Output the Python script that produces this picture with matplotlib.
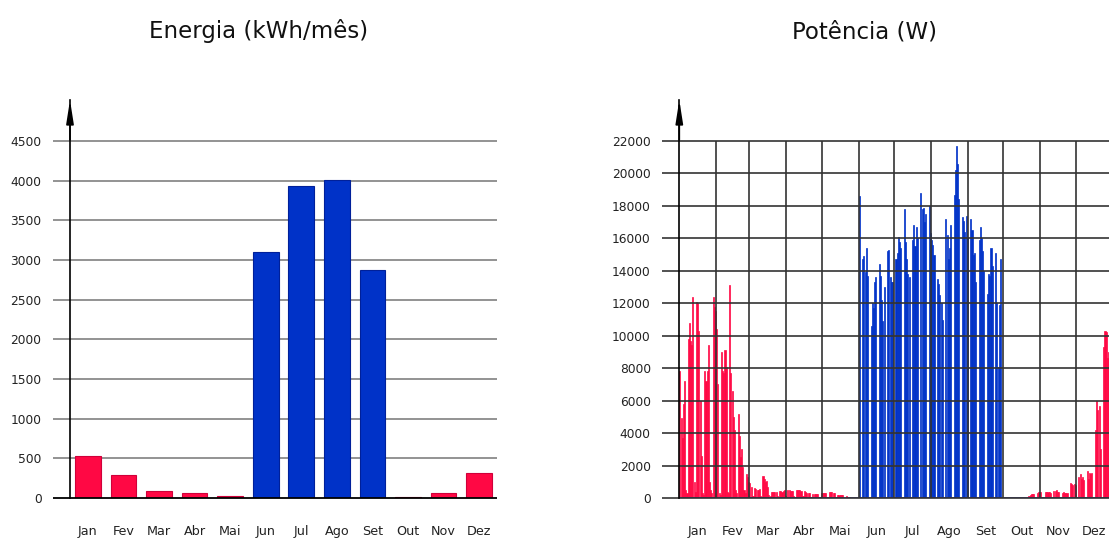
import numpy as np
import matplotlib.pyplot as plt
from matplotlib.transforms import blended_transform_factory

meses = ['Jan', 'Fev', 'Mar', 'Abr', 'Mai', 'Jun', 'Jul', 'Ago', 'Set', 'Out', 'Nov', 'Dez']
energia = [533, 290, 84, 59, 25, 3097, 3933, 4005, 2870, 13, 67, 311]
verao = [5, 6, 7, 8]  # meses em azul

# pico diario de potencia (W), um valor por dia
pot_jan = [7800, 4900, 3700, 5800, 7200, 500, 300, 9800, 10800, 9700, 9400, 12400, 1000, 400,
           12100, 12000, 10300, 6000, 2600, 300, 200, 7800, 7200, 7800, 9400, 1000, 500, 300,
           12400, 11800, 11500]
pot_fev = [10400, 7000, 300, 200, 9000, 7800, 7700, 9100, 8100, 400, 300, 13100, 7700, 6600,
           5000, 4200, 500, 300, 5200, 3800, 2500, 3000, 1900, 500, 300, 1500, 1300, 1000]
pot_mar = [900, 700, 150, 100, 600, 550, 500, 500, 550, 100, 80, 1350, 1200, 1000, 1050, 700,
           200, 150, 400, 380, 350, 350, 340, 100, 80, 420, 430, 400, 450, 480, 100]
pot_abr = [80, 490, 470, 450, 450, 460, 100, 80, 480, 490, 480, 470, 450, 120, 100, 460, 400,
           330, 320, 300, 80, 60, 250, 250, 240, 230, 250, 60, 50, 290]
pot_mai = [290, 290, 280, 300, 60, 50, 390, 370, 340, 330, 330, 50, 40, 190, 185, 180, 185, 180,
           30, 20, 100, 90, 60, 40, 30, 0, 0, 0, 0, 0, 0]
pot_jun = [18600, 0, 0, 14700, 14900, 13900, 15400, 13700, 0, 0, 10600, 12000, 11700, 13300,
           13600, 0, 0, 14400, 13700, 12200, 10900, 13000, 0, 0, 15200, 15300, 13600, 13300,
           13300, 0]
pot_jul = [0, 14700, 15100, 16100, 15800, 15400, 0, 0, 17800, 15800, 14700, 13800, 13600, 0, 0,
           15900, 16800, 15500, 16700, 16000, 0, 0, 18800, 17800, 17900, 17000, 17500, 0, 0,
           18000, 16300]
pot_ago = [15900, 15600, 15000, 0, 0, 13500, 13200, 12500, 12000, 11000, 0, 0, 17200, 16200,
           14700, 15400, 16800, 0, 0, 18700, 20200, 21700, 20600, 18400, 0, 0, 17300, 17100,
           16400, 17400, 16000]
pot_set = [0, 0, 17200, 16500, 15000, 15100, 13300, 0, 0, 15900, 16700, 16000, 15200, 14000, 0,
           0, 12600, 13800, 13700, 15400, 14300, 0, 0, 15100, 12000, 8100, 11900, 14700, 0, 0]
pot_out = [0, 0, 0, 0, 0, 0, 0, 0, 0, 0, 0, 0, 0, 0, 0, 0, 0, 0, 0, 0, 0,
           150, 200, 220, 230, 220, 0, 0, 300, 390, 350]
pot_nov = [380, 50, 0, 0, 350, 370, 360, 370, 330, 0, 0, 420, 450, 490, 380, 350, 0, 0, 330,
           340, 320, 330, 330, 0, 0, 900, 850, 800, 880, 800]
pot_dez = [0, 0, 1300, 1480, 1150, 1300, 1100, 0, 0, 1680, 1200, 1560, 1500, 1550, 0, 0, 4190,
           5990, 5400, 5700, 3000, 0, 0, 9280, 10300, 10200, 8600, 9000, 0, 0, 500]

pot_meses = [pot_jan, pot_fev, pot_mar, pot_abr, pot_mai, pot_jun, pot_jul, pot_ago, pot_set,
             pot_out, pot_nov, pot_dez]

vermelho = '#ff0844'
azul = '#0032c8'
cinza = '#8a8a8a'

W, H = 1109, 541
fig = plt.figure(figsize=(W / 100, H / 100), dpi=100)
plt.rcParams['font.family'] = 'DejaVu Sans'

ax1 = fig.add_axes([70 / W, 1 - 498 / H, 427 / W, 398 / H])
ax2 = fig.add_axes([679.3 / W, 1 - 498 / H, 433.4 / W, 398 / H])

# ---------- energia ----------
x = np.arange(12)
cores = [azul if i in verao else vermelho for i in range(12)]
bordas = ['#00209a' if i in verao else '#d0003a' for i in range(12)]
ax1.bar(x, energia, width=0.72, color=cores, edgecolor=bordas, linewidth=0.8, zorder=3)
ax1.set_xlim(-0.5, 11.5)
ax1.set_ylim(0, 5017)
yt1 = list(range(0, 5000, 500))
ax1.set_yticks(yt1)
ax1.set_xticks(x)
ax1.set_xticklabels(meses, fontsize=9.2, color='#222222')
tr1 = blended_transform_factory(ax1.transAxes, ax1.transData)
ext1 = 17 / 427
for t in yt1:
    if t == 0:
        ax1.hlines(t, -ext1, 1, transform=tr1, color='black', lw=1.3, clip_on=False, zorder=4)
    else:
        ax1.hlines(t, -ext1, 1, transform=tr1, color=cinza, lw=1.3, clip_on=False, zorder=1)

# ---------- potencia ----------
dias = [len(m) for m in pot_meses]
inicio = np.concatenate([[0], np.cumsum(dias)])
pot = np.concatenate(pot_meses)
cor_dia = []
for i, n in enumerate(dias):
    cor_dia += [azul if i in verao else vermelho] * n
xd = np.arange(len(pot)) + 0.5
ax2.bar(xd, pot, width=0.9, color=cor_dia, edgecolor=cor_dia, linewidth=0.5, zorder=2)
ax2.axhline(0, color='#2a2a9a', lw=1.2, zorder=2.5)
ax2.set_xlim(0, 365)
ax2.set_ylim(0, 24527)
yt2 = list(range(0, 24000, 2000))
ax2.set_yticks(yt2)
ax2.set_xticks(inicio[:-1] + np.array(dias) / 2)
ax2.set_xticklabels(meses, fontsize=9.2, color='#222222')
tr2 = blended_transform_factory(ax2.transAxes, ax2.transData)
ext2 = 17 / 433.4
for t in yt2:
    ax2.hlines(t, -ext2, 1, transform=tr2, color='#333333', lw=1.2, clip_on=False, zorder=4)
ax2.vlines(inicio[1:-1], 0, 22000, color='#333333', lw=1.2, zorder=4)

for ax in [ax1, ax2]:
    for s in ['top', 'right', 'bottom']:
        ax.spines[s].set_visible(False)
    ax.spines['left'].set_linewidth(1.2)
    ax.spines['left'].set_zorder(5)
    ax.tick_params(axis='y', length=0, pad=20.5, labelsize=8.8, labelcolor='#222222')
    ax.tick_params(axis='x', length=0, pad=19.5)
    ax.annotate('', xy=(0, 1.0), xycoords='axes fraction', xytext=(0, 0.9),
                arrowprops=dict(arrowstyle='-|>,head_length=1.4,head_width=0.22',
                                color='black', lw=1.2, mutation_scale=10,
                                shrinkA=0, shrinkB=0), annotation_clip=False)

fig.text(258.7 / W, 1 - 38.3 / H, 'Energia (kWh/mês)', ha='center', va='baseline',
         fontsize=16.5, color='#111111')
fig.text(864 / W, 1 - 38.3 / H, 'Potência (W)', ha='center', va='baseline',
         fontsize=16.5, color='#111111')

fig.savefig('out.png', dpi=100)
